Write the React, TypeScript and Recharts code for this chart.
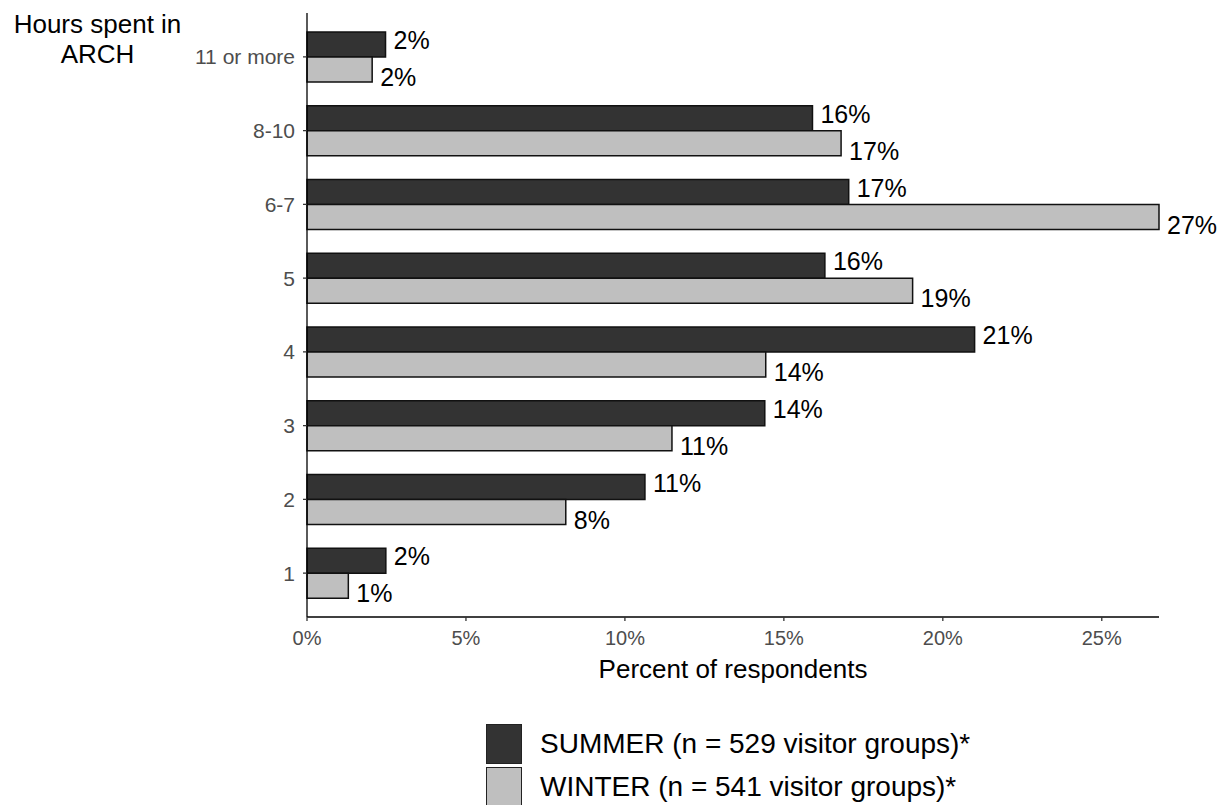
import { BarChart, Bar, XAxis, YAxis, Legend, LabelList } from "recharts";

const hours = ["11 or more", "8-10", "6-7", "5", "4", "3", "2", "1"];
const summer = [2.47, 15.9, 17.04, 16.29, 21.0, 14.4, 10.63, 2.48];
const winter = [2.05, 16.8, 26.8, 19.05, 14.43, 11.48, 8.14, 1.3];
const xTicks = [0, 5, 10, 15, 20, 25];
const seriesNames = ["SUMMER (n = 529 visitor groups)*", "WINTER (n = 541 visitor groups)*"];

const FONT = "'Liberation Sans', Arial, sans-serif";
const SUMMER_FILL = "#333333";
const WINTER_FILL = "#bfbfbf";

const data = hours.map((h, i) => ({ h, summer: summer[i], winter: winter[i] }));

function barLabel(dy: number) {
  return (p: any) => {
    const { x, y, width, height, value } = p;
    return (
      <text
        x={x + width + 8}
        y={y + height / 2 + dy}
        fontSize={25}
        fontFamily={FONT}
        fill="#000"
      >
        {Math.round(value)}%
      </text>
    );
  };
}

function LegendBox() {
  const fills = [SUMMER_FILL, WINTER_FILL];
  return (
    <div style={{ fontFamily: FONT }}>
      {seriesNames.map((n, i) => (
        <div key={n} style={{ display: "flex", alignItems: "center", height: 43 }}>
          <div
            style={{
              width: 34,
              height: 38,
              background: fills[i],
              border: "1.5px solid #222",
              marginRight: 18,
            }}
          />
          <span style={{ fontSize: 28, color: "#000", whiteSpace: "nowrap" }}>{n}</span>
        </div>
      ))}
    </div>
  );
}

export default function App() {
  return (
    <div
      style={{
        position: "fixed",
        left: 0,
        top: 0,
        width: 1229,
        height: 805,
        overflow: "hidden",
        background: "#fff",
      }}
    >
      <BarChart
        width={1229}
        height={805}
        data={data}
        layout="vertical"
        margin={{ top: 13, right: 70, bottom: 108, left: 0 }}
        barSize={25}
        barGap={0}
      >
        <XAxis
          type="number"
          domain={[0, 26.8]}
          ticks={xTicks}
          tickFormatter={(v: number) => `${v}%`}
          height={80}
          tick={{ fontSize: 20, fill: "#4d4d4d", fontFamily: FONT }}
          tickSize={4}
          tickMargin={10}
          axisLine={{ stroke: "#000", strokeWidth: 1.3 }}
          tickLine={{ stroke: "#333", strokeWidth: 1.3 }}
          label={{
            content: (p: any) => {
              const vb = p.viewBox;
              return (
                <text
                  x={vb.x + vb.width / 2}
                  y={vb.y + 61}
                  textAnchor="middle"
                  fontSize={26}
                  fontFamily={FONT}
                  fill="#000"
                >
                  Percent of respondents
                </text>
              );
            },
          }}
        />
        <YAxis
          type="category"
          dataKey="h"
          width={307}
          padding={{ top: 7, bottom: 7 }}
          tick={{ fontSize: 21, fill: "#4d4d4d", fontFamily: FONT }}
          tickSize={4}
          tickMargin={8}
          axisLine={{ stroke: "#000", strokeWidth: 1.3 }}
          tickLine={{ stroke: "#333", strokeWidth: 1.3 }}
          label={{
            content: (p: any) => {
              const vb = p.viewBox;
              return (
                <text
                  x={vb.x + 97.5}
                  y={vb.y + 20}
                  textAnchor="middle"
                  fontSize={26}
                  fontFamily={FONT}
                  fill="#000"
                >
                  <tspan x={vb.x + 97.5}>Hours spent in</tspan>
                  <tspan x={vb.x + 97.5} dy={30}>ARCH</tspan>
                </text>
              );
            },
          }}
        />
        <Bar dataKey="summer" fill={SUMMER_FILL} stroke="#111" strokeWidth={1.5} isAnimationActive={false}>
          <LabelList dataKey="summer" content={barLabel(4.5)} />
        </Bar>
        <Bar dataKey="winter" fill={WINTER_FILL} stroke="#111" strokeWidth={1.5} isAnimationActive={false}>
          <LabelList dataKey="winter" content={barLabel(16.5)} />
        </Bar>
        <Legend
          layout="horizontal"
          verticalAlign="middle"
          align="center"
          content={() => <LegendBox />}
          wrapperStyle={{ left: 486, top: 722, width: "auto", height: "auto" }}
        />
      </BarChart>
    </div>
  );
}
